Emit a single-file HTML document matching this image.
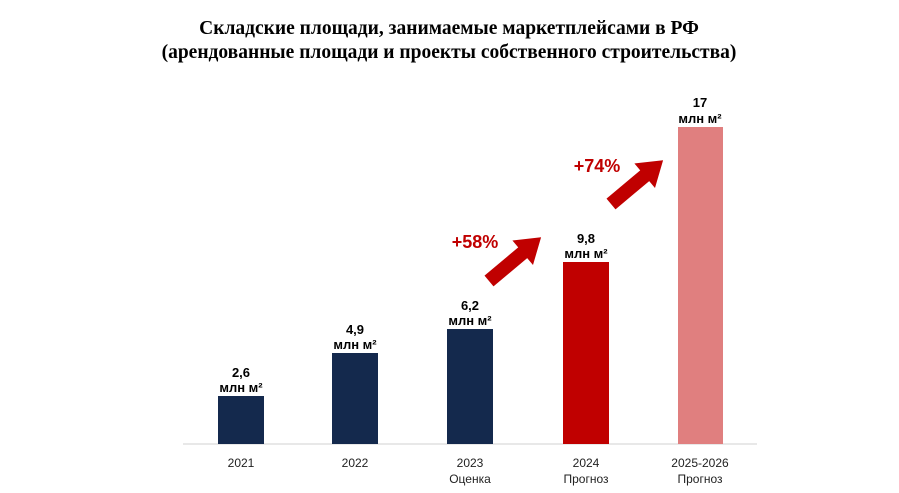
<!DOCTYPE html>
<html><head><meta charset="utf-8"><style>
html,body{margin:0;padding:0;background:#fff;}
svg{display:block;}
.ax{font-family:"Liberation Sans",sans-serif;font-size:12px;fill:#222;}
</style></head><body>
<svg width="899" height="493" viewBox="0 0 899 493" xmlns="http://www.w3.org/2000/svg">
<text x="449" y="34" text-anchor="middle" font-family="Liberation Serif, serif" font-weight="bold" font-size="19.5" fill="#000">Складские площади, занимаемые маркетплейсами в РФ</text>
<text x="449" y="58" text-anchor="middle" font-family="Liberation Serif, serif" font-weight="bold" font-size="19.5" fill="#000">(арендованные площади и проекты собственного строительства)</text>
<line x1="183" y1="444" x2="757" y2="444" stroke="#d9d9d9" stroke-width="1.2"/>
<rect x="218" y="396" width="46" height="48" fill="#14294d"/>
<rect x="332" y="353" width="46" height="91" fill="#14294d"/>
<rect x="447" y="329" width="46" height="115" fill="#14294d"/>
<rect x="563" y="262" width="46" height="182" fill="#c00000"/>
<rect x="678" y="127" width="45" height="317" fill="#e07f7f"/>
<g font-family="Liberation Sans, sans-serif" font-weight="bold" font-size="13" fill="#000" text-anchor="middle">
<text x="241" y="377">2,6</text><text x="241" y="392">млн м²</text>
<text x="355" y="334">4,9</text><text x="355" y="349">млн м²</text>
<text x="470" y="310">6,2</text><text x="470" y="325">млн м²</text>
<text x="586" y="243">9,8</text><text x="586" y="258">млн м²</text>
<text x="700" y="107">17</text><text x="700" y="123">млн м²</text>
</g>
<text class="ax" x="241" y="467" text-anchor="middle">2021</text>
<text class="ax" x="355" y="467" text-anchor="middle">2022</text>
<text class="ax" x="470" y="467" text-anchor="middle">2023</text>
<text class="ax" x="470" y="483" text-anchor="middle">Оценка</text>
<text class="ax" x="586" y="467" text-anchor="middle">2024</text>
<text class="ax" x="586" y="483" text-anchor="middle">Прогноз</text>
<text class="ax" x="700" y="467" text-anchor="middle">2025-2026</text>
<text class="ax" x="700" y="483" text-anchor="middle">Прогноз</text>
<g font-family="Liberation Sans, sans-serif" font-weight="bold" font-size="18" fill="#c00000" text-anchor="middle">
<text x="475" y="248">+58%</text>
<text x="597" y="172">+74%</text>
</g>
<g fill="#c00000">
<polygon points="0,-7 44,-7 44,-16 68,0 44,16 44,7 0,7" transform="translate(489,281) rotate(-40)"/>
<polygon points="0,-7 44,-7 44,-16 68,0 44,16 44,7 0,7" transform="translate(611,204) rotate(-40)"/>
</g>
</svg>
</body></html>
